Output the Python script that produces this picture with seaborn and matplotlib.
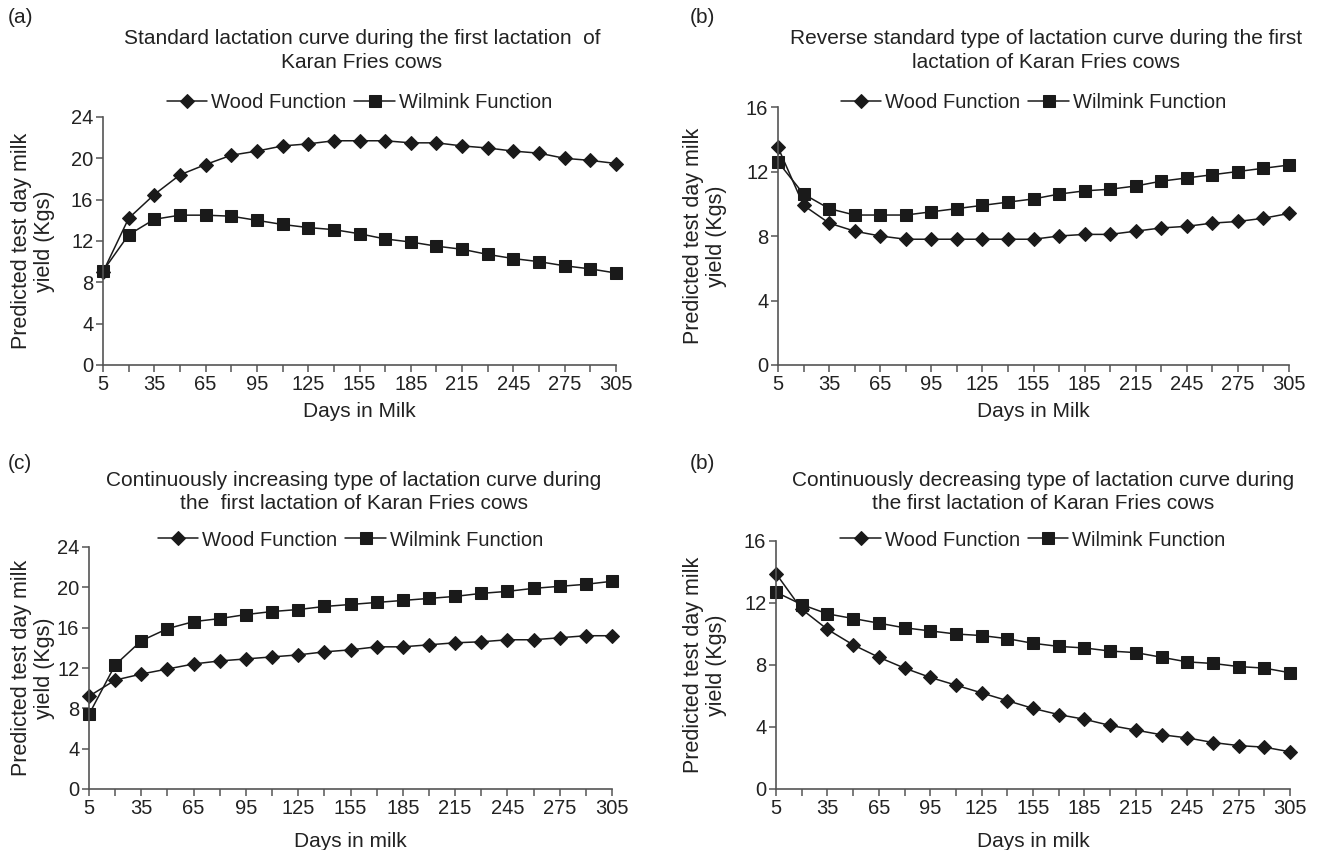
import numpy as np
import pandas as pd
import matplotlib
matplotlib.use("Agg")
import matplotlib.pyplot as plt
import seaborn as sns

days = [5, 20, 35, 50, 65, 80, 95, 110, 125, 140, 155, 170, 185, 200, 215, 230, 245, 260, 275, 290, 305]

wood_a = [9.0, 14.2, 16.5, 18.4, 19.4, 20.3, 20.7, 21.2, 21.4, 21.7, 21.7, 21.7, 21.5, 21.5, 21.2, 21.0, 20.7, 20.5, 20.0, 19.8, 19.5]
wilm_a = [9.1, 12.6, 14.1, 14.5, 14.5, 14.4, 14.0, 13.6, 13.3, 13.1, 12.7, 12.2, 11.9, 11.5, 11.2, 10.7, 10.3, 10.0, 9.6, 9.3, 8.9]

wood_b = [13.5, 9.9, 8.8, 8.3, 8.0, 7.8, 7.8, 7.8, 7.8, 7.8, 7.8, 8.0, 8.1, 8.1, 8.3, 8.5, 8.6, 8.8, 8.9, 9.1, 9.4]
wilm_b = [12.6, 10.6, 9.7, 9.3, 9.3, 9.3, 9.5, 9.7, 9.9, 10.1, 10.3, 10.6, 10.8, 10.9, 11.1, 11.4, 11.6, 11.8, 12.0, 12.2, 12.4]

wood_c = [9.2, 10.8, 11.4, 11.9, 12.4, 12.7, 12.9, 13.1, 13.3, 13.6, 13.8, 14.1, 14.1, 14.3, 14.5, 14.6, 14.8, 14.8, 15.0, 15.2, 15.2]
wilm_c = [7.4, 12.3, 14.7, 15.9, 16.6, 16.9, 17.3, 17.6, 17.8, 18.1, 18.3, 18.5, 18.7, 18.9, 19.1, 19.4, 19.6, 19.9, 20.1, 20.3, 20.6]

wood_d = [13.9, 11.6, 10.3, 9.3, 8.5, 7.8, 7.2, 6.7, 6.2, 5.7, 5.2, 4.8, 4.5, 4.1, 3.8, 3.5, 3.3, 3.0, 2.8, 2.7, 2.4]
wilm_d = [12.7, 11.9, 11.3, 11.0, 10.7, 10.4, 10.2, 10.0, 9.9, 9.7, 9.4, 9.2, 9.1, 8.9, 8.8, 8.5, 8.2, 8.1, 7.9, 7.8, 7.5]

xtick_labels = [5, 35, 65, 95, 125, 155, 185, 215, 245, 275, 305]

panel_letters = ["(a)", "(b)", "(c)", "(b)"]
titles = [
    "Standard lactation curve during the first lactation  of\nKaran Fries cows",
    "Reverse standard type of lactation curve during the first\nlactation of Karan Fries cows",
    "Continuously increasing type of lactation curve during\nthe  first lactation of Karan Fries cows",
    "Continuously decreasing type of lactation curve during\nthe first lactation of Karan Fries cows",
]
xlabels = ["Days in Milk", "Days in Milk", "Days in milk", "Days in milk"]
ylabel = "Predicted test day milk\nyield (Kgs)"
ymaxes = [24, 16, 24, 16]
series_names = ["Wood Function", "Wilmink Function"]

sns.set_theme(style="ticks")
plt.rcParams['font.family'] = ['Liberation Sans', 'DejaVu Sans']

W, H = 1319, 850
fig = plt.figure(figsize=(W / 100, H / 100), dpi=100)

# pixel boxes: left, right, top, bottom
boxes = [
    (103, 616, 117, 365),
    (778, 1289, 107, 365),
    (89, 612, 547, 789),
    (776, 1290, 541, 789),
]
letter_pos = [(8, 8), (690, 8), (8, 454), (690, 454)]
title_line1 = [40, 40, 482, 482]
title_cx = [362, 1046, 354, 1043]
legend_y = [103, 103, 540, 540]
ylab_x = [33, 705, 33, 705]
xlab_pad = [6, 6, 10, 10]

data = [(wood_a, wilm_a), (wood_b, wilm_b), (wood_c, wilm_c), (wood_d, wilm_d)]
ink = "#1a1a1a"
axcol = "#555555"
txt = "#222222"

for i in range(4):
    l, r, t, b = boxes[i]
    ax = fig.add_axes([l / W, 1 - b / H, (r - l) / W, (b - t) / H])
    wood, wilm = data[i]
    df = pd.DataFrame({"days": days, "wood": wood, "wilm": wilm})
    sns.lineplot(data=df, x="days", y="wood", ax=ax, color=ink, lw=1.1,
                 marker="D", markersize=7, markeredgecolor=ink, label=series_names[0], clip_on=False)
    sns.lineplot(data=df, x="days", y="wilm", ax=ax, color=ink, lw=1.1,
                 marker="s", markersize=9, markeredgecolor=ink, label=series_names[1], clip_on=False)
    ax.set_xlim(5, 305)
    ax.set_ylim(0, ymaxes[i])
    ax.set_xticks(days)
    ax.set_xticklabels([str(d) if d in xtick_labels else "" for d in days])
    ax.set_yticks(np.arange(0, ymaxes[i] + 1, 4))
    for s in ["top", "right"]:
        ax.spines[s].set_visible(False)
    for s in ["left", "bottom"]:
        ax.spines[s].set_color(axcol)
        ax.spines[s].set_linewidth(1.2)
    ax.tick_params(axis="both", direction="out", length=5, width=1.1, color=axcol,
                   labelsize=14.5, labelcolor=txt, pad=2)
    ax.set_xlabel(xlabels[i], fontsize=15, color=txt, labelpad=xlab_pad[i])
    ax.set_ylabel("")
    fig.text(ylab_x[i] / W, 1 - ((t + b) / 2) / H, ylabel, rotation=90,
             ha="center", va="center", multialignment="center",
             fontsize=15.5, color=txt, linespacing=1.15)
    ax.legend(loc="center", bbox_to_anchor=((l + r) / 2 / W, 1 - legend_y[i] / H),
              bbox_transform=fig.transFigure,
              ncol=2, frameon=False, fontsize=14.5, handlelength=2.0, handletextpad=0.2,
              columnspacing=0.4, borderaxespad=0, borderpad=0, labelcolor=txt)
    fig.text(title_cx[i] / W, 1 - (title_line1[i] - 11) / H, titles[i], ha="center", va="top",
             fontsize=15, color=txt, linespacing=1.3)
    fig.text(letter_pos[i][0] / W, 1 - letter_pos[i][1] / H, panel_letters[i],
             ha="left", va="top", fontsize=15, color=txt)

fig.savefig("out.png", dpi=100)
